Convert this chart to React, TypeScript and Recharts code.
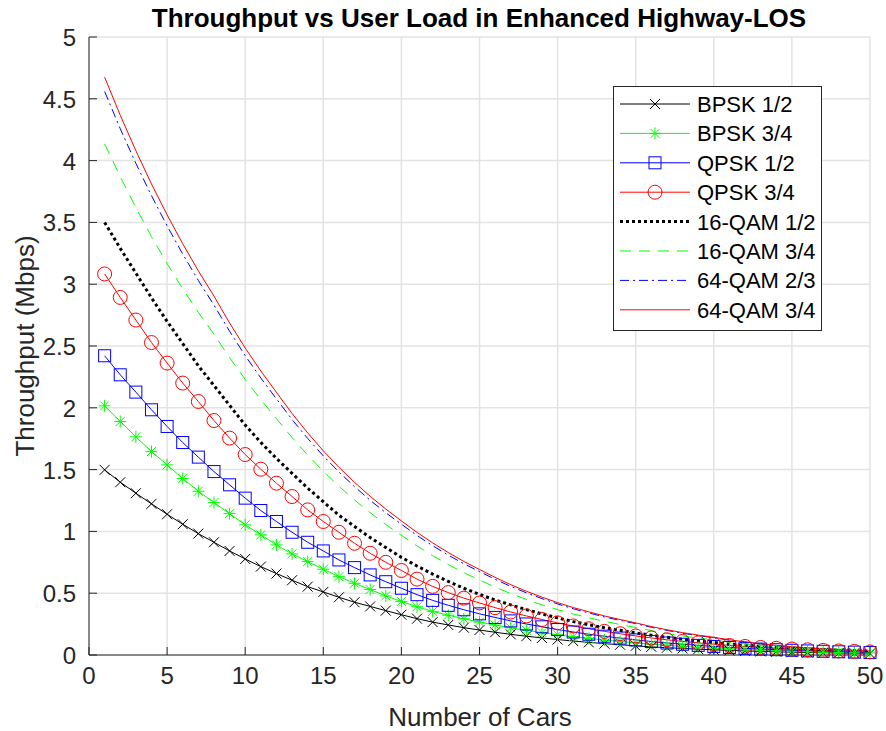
import { CartesianGrid, Legend, Line, LineChart, XAxis, YAxis } from "recharts";

// number of cars on the x axis
const cars = [
  1, 2, 3, 4, 5, 6, 7, 8, 9, 10, 11, 12, 13, 14, 15, 16, 17, 18, 19, 20, 21,
  22, 23, 24, 25, 26, 27, 28, 29, 30, 31, 32, 33, 34, 35, 36, 37, 38, 39, 40,
  41, 42, 43, 44, 45, 46, 47, 48, 49, 50,
];

// throughput (Mbps)
const bpsk12 = [
  1.498, 1.398, 1.309, 1.223, 1.139, 1.058, 0.982, 0.912, 0.842, 0.777, 0.715,
  0.659, 0.605, 0.553, 0.51, 0.467, 0.427, 0.393, 0.359, 0.326, 0.294, 0.266,
  0.243, 0.221, 0.202, 0.184, 0.167, 0.152, 0.138, 0.125, 0.113, 0.102, 0.092,
  0.083, 0.074, 0.066, 0.059, 0.053, 0.047, 0.042, 0.037, 0.033, 0.029, 0.026,
  0.023, 0.02, 0.018, 0.016, 0.014, 0.012,
];
const bpsk34 = [
  2.016, 1.889, 1.765, 1.646, 1.538, 1.428, 1.325, 1.233, 1.144, 1.053, 0.972,
  0.891, 0.818, 0.756, 0.694, 0.634, 0.58, 0.53, 0.478, 0.433, 0.39, 0.353,
  0.322, 0.293, 0.266, 0.242, 0.22, 0.2, 0.181, 0.164, 0.148, 0.134, 0.121,
  0.109, 0.098, 0.087, 0.078, 0.07, 0.062, 0.055, 0.049, 0.043, 0.038, 0.034,
  0.03, 0.027, 0.024, 0.021, 0.018, 0.016,
];
const qpsk12 = [
  2.421, 2.267, 2.127, 1.984, 1.849, 1.719, 1.601, 1.484, 1.377, 1.269, 1.169,
  1.08, 0.993, 0.912, 0.842, 0.769, 0.707, 0.648, 0.593, 0.54, 0.488, 0.442,
  0.402, 0.366, 0.333, 0.304, 0.276, 0.251, 0.228, 0.206, 0.186, 0.168, 0.152,
  0.137, 0.122, 0.109, 0.097, 0.087, 0.078, 0.069, 0.061, 0.054, 0.048, 0.043,
  0.038, 0.033, 0.03, 0.026, 0.023, 0.02,
];
const qpsk34 = [
  3.083, 2.893, 2.71, 2.528, 2.362, 2.2, 2.051, 1.897, 1.755, 1.622, 1.503,
  1.39, 1.282, 1.174, 1.08, 0.993, 0.904, 0.823, 0.75, 0.684, 0.614, 0.555,
  0.505, 0.46, 0.421, 0.383, 0.348, 0.316, 0.287, 0.26, 0.235, 0.212, 0.191,
  0.172, 0.154, 0.138, 0.123, 0.11, 0.098, 0.087, 0.077, 0.069, 0.061, 0.054,
  0.048, 0.042, 0.037, 0.033, 0.029, 0.025,
];
const qam16_12 = [
  3.5, 3.29, 3.09, 2.89, 2.7, 2.52, 2.34, 2.18, 2.02, 1.86, 1.72, 1.59, 1.47,
  1.35, 1.24, 1.13, 1.04, 0.95, 0.87, 0.79, 0.72, 0.655, 0.595, 0.54, 0.49,
  0.445, 0.405, 0.367, 0.332, 0.3, 0.27, 0.245, 0.22, 0.2, 0.178, 0.16, 0.143,
  0.128, 0.114, 0.101, 0.09, 0.08, 0.071, 0.063, 0.056, 0.049, 0.044, 0.039,
  0.034, 0.03,
];
const qam16_34 = [
  4.135, 3.87, 3.62, 3.385, 3.167, 2.963, 2.772, 2.596, 2.406, 2.23, 2.066,
  1.912, 1.759, 1.617, 1.487, 1.365, 1.254, 1.151, 1.056, 0.968, 0.882, 0.804,
  0.732, 0.666, 0.607, 0.549, 0.497, 0.45, 0.406, 0.367, 0.332, 0.301, 0.272,
  0.247, 0.223, 0.197, 0.174, 0.154, 0.137, 0.121, 0.104, 0.09, 0.077, 0.066,
  0.057, 0.049, 0.042, 0.036, 0.031, 0.027,
];
const qam64_23 = [
  4.559, 4.258, 3.978, 3.716, 3.472, 3.244, 3.03, 2.831, 2.619, 2.422, 2.241,
  2.072, 1.905, 1.752, 1.611, 1.481, 1.362, 1.252, 1.151, 1.058, 0.967, 0.884,
  0.808, 0.738, 0.675, 0.612, 0.555, 0.503, 0.456, 0.413, 0.374, 0.34, 0.308,
  0.28, 0.254, 0.224, 0.199, 0.176, 0.157, 0.139, 0.12, 0.103, 0.089, 0.076,
  0.065, 0.057, 0.049, 0.042, 0.036, 0.031,
];
const qam64_34 = [
  4.675, 4.367, 4.08, 3.811, 3.561, 3.327, 3.108, 2.904, 2.686, 2.484, 2.298,
  2.125, 1.954, 1.797, 1.652, 1.519, 1.397, 1.284, 1.181, 1.085, 0.992, 0.907,
  0.829, 0.757, 0.692, 0.628, 0.569, 0.516, 0.468, 0.424, 0.384, 0.349, 0.316,
  0.287, 0.26, 0.23, 0.204, 0.181, 0.161, 0.143, 0.123, 0.106, 0.091, 0.078,
  0.067, 0.058, 0.05, 0.043, 0.037, 0.032,
];

const xTicks = [0, 5, 10, 15, 20, 25, 30, 35, 40, 45, 50];
const yTicks = [0, 0.5, 1, 1.5, 2, 2.5, 3, 3.5, 4, 4.5, 5];

const series = [
  { key: "bpsk12", name: "BPSK 1/2", values: bpsk12 },
  { key: "bpsk34", name: "BPSK 3/4", values: bpsk34 },
  { key: "qpsk12", name: "QPSK 1/2", values: qpsk12 },
  { key: "qpsk34", name: "QPSK 3/4", values: qpsk34 },
  { key: "qam16_12", name: "16-QAM 1/2", values: qam16_12 },
  { key: "qam16_34", name: "16-QAM 3/4", values: qam16_34 },
  { key: "qam64_23", name: "64-QAM 2/3", values: qam64_23 },
  { key: "qam64_34", name: "64-QAM 3/4", values: qam64_34 },
];

// line styles per series
const styles: Record<string, any> = {
  bpsk12: { color: "#000000", width: 1, dash: undefined, marker: "x" },
  bpsk34: { color: "#00ff00", width: 1, dash: undefined, marker: "star" },
  qpsk12: { color: "#0000ff", width: 1, dash: undefined, marker: "square" },
  qpsk34: { color: "#ff0000", width: 1, dash: undefined, marker: "circle" },
  qam16_12: { color: "#000000", width: 3, dash: "3 3", marker: null },
  qam16_34: { color: "#00ff00", width: 1, dash: "11 8", marker: null },
  qam64_23: { color: "#0000ff", width: 1, dash: "9 4 2 4", marker: null },
  qam64_34: { color: "#ff0000", width: 1, dash: undefined, marker: null },
};

const data = cars.map((n, i) => {
  const row: Record<string, number> = { cars: n };
  series.forEach((s) => {
    row[s.key] = s.values[i];
  });
  return row;
});

const FONT = '"Liberation Sans", Arial, Helvetica, sans-serif';
const AXIS = "#262626";

const Marker = ({ type, cx, cy, color }: any) => {
  if (type === "x") {
    return (
      <path
        d={`M${cx - 5},${cy - 5}L${cx + 5},${cy + 5}M${cx - 5},${cy + 5}L${cx + 5},${cy - 5}`}
        stroke={color}
        fill="none"
      />
    );
  }
  if (type === "star") {
    return (
      <path
        d={`M${cx - 6},${cy}L${cx + 6},${cy}M${cx},${cy - 6}L${cx},${cy + 6}M${cx - 4.5},${cy - 4.5}L${cx + 4.5},${cy + 4.5}M${cx - 4.5},${cy + 4.5}L${cx + 4.5},${cy - 4.5}`}
        stroke={color}
        fill="none"
      />
    );
  }
  if (type === "square") {
    return (
      <rect x={cx - 6} y={cy - 6} width={12} height={12} stroke={color} fill="none" />
    );
  }
  if (type === "circle") {
    return <circle cx={cx} cy={cy} r={7} stroke={color} fill="none" />;
  }
  return null;
};

const BottomTick = ({ x, y, payload }: any) => (
  <g>
    <line x1={x} y1={y} x2={x} y2={y - 8} stroke={AXIS} />
    <text
      x={x}
      y={y + 29}
      textAnchor="middle"
      fontFamily={FONT}
      fontSize={24}
      fill={AXIS}
    >
      {payload.value}
    </text>
  </g>
);

const LeftTick = ({ x, y, payload }: any) => (
  <g>
    <line x1={x} y1={y} x2={x + 8} y2={y} stroke={AXIS} />
    <text
      x={x - 13}
      y={y + 9}
      textAnchor="end"
      fontFamily={FONT}
      fontSize={24}
      fill={AXIS}
    >
      {payload.value}
    </text>
  </g>
);

const TopTick = ({ x, y }: any) => (
  <line x1={x} y1={y} x2={x} y2={y + 8} stroke={AXIS} />
);

const RightTick = ({ x, y }: any) => (
  <line x1={x} y1={y} x2={x - 8} y2={y} stroke={AXIS} />
);

const LegendBox = () => (
  <svg width={209} height={245} style={{ display: "block" }}>
    <rect x={0.5} y={0.5} width={208} height={244} fill="#ffffff" stroke={AXIS} />
    {series.map((s, i) => {
      const st = styles[s.key];
      const cy = 18 + i * 29.4;
      return (
        <g key={s.key}>
          <line
            x1={7}
            y1={cy}
            x2={77}
            y2={cy}
            stroke={st.color}
            strokeWidth={st.width}
            strokeDasharray={st.dash}
          />
          <Marker type={st.marker} cx={42} cy={cy} color={st.color} />
          <text x={84} y={cy + 8} fontFamily={FONT} fontSize={22} fill="#000000">
            {s.name}
          </text>
        </g>
      );
    })}
  </svg>
);

// axis titles and chart title, drawn as one label group
const Titles = () => (
  <g>
    <text
      x={479}
      y={27}
      textAnchor="middle"
      fontFamily={FONT}
      fontSize={26}
      fontWeight="bold"
      fill="#000000"
    >
      Throughput vs User Load in Enhanced Highway-LOS
    </text>
    <text
      x={25}
      y={346}
      textAnchor="middle"
      transform="rotate(-90 25 346)"
      dominantBaseline="central"
      fontFamily={FONT}
      fontSize={26}
      fill={AXIS}
    >
      Throughput (Mbps)
    </text>
    <text
      x={480}
      y={726}
      textAnchor="middle"
      fontFamily={FONT}
      fontSize={26}
      fill={AXIS}
    >
      Number of Cars
    </text>
  </g>
);

export default function App() {
  return (
    <div
      style={{
        position: "absolute",
        left: 0,
        top: 0,
        width: 886,
        height: 731,
        background: "#ffffff",
      }}
    >
      <LineChart
        width={886}
        height={731}
        data={data}
        margin={{ top: 37, right: 16, bottom: 0, left: 0 }}
      >
        <CartesianGrid stroke="#e3e3e3" strokeWidth={1.5} />
        <XAxis
          dataKey="cars"
          type="number"
          domain={[0, 50]}
          ticks={xTicks}
          height={76}
          tickSize={0}
          tickMargin={0}
          axisLine={{ stroke: AXIS }}
          tick={<BottomTick />}
        />
        <XAxis
          xAxisId="top"
          orientation="top"
          dataKey="cars"
          type="number"
          domain={[0, 50]}
          ticks={xTicks}
          height={0}
          tickSize={0}
          tickMargin={0}
          axisLine={{ stroke: AXIS }}
          tick={<TopTick />}
        />
        <YAxis
          type="number"
          domain={[0, 5]}
          ticks={yTicks}
          width={89}
          tickSize={0}
          tickMargin={0}
          axisLine={{ stroke: AXIS }}
          tick={<LeftTick />}
          label={{ content: () => <Titles /> }}
        />
        <YAxis
          yAxisId="right"
          orientation="right"
          type="number"
          domain={[0, 5]}
          ticks={yTicks}
          width={0}
          tickSize={0}
          tickMargin={0}
          axisLine={{ stroke: AXIS }}
          tick={<RightTick />}
        />
        {series.map((s) => {
          const st = styles[s.key];
          return (
            <Line
              key={s.key}
              type="linear"
              dataKey={s.key}
              name={s.name}
              stroke={st.color}
              strokeWidth={st.width}
              strokeDasharray={st.dash}
              dot={
                st.marker
                  ? (p: any) => (
                      <Marker
                        key={`${s.key}-${p.index}`}
                        type={st.marker}
                        cx={p.cx}
                        cy={p.cy}
                        color={st.color}
                      />
                    )
                  : false
              }
              activeDot={false}
              isAnimationActive={false}
            />
          );
        })}
        <Legend
          layout="vertical"
          align="center"
          verticalAlign="middle"
          wrapperStyle={{ left: 613, top: 86, width: 209, height: 245 }}
          content={() => <LegendBox />}
        />
      </LineChart>
    </div>
  );
}
